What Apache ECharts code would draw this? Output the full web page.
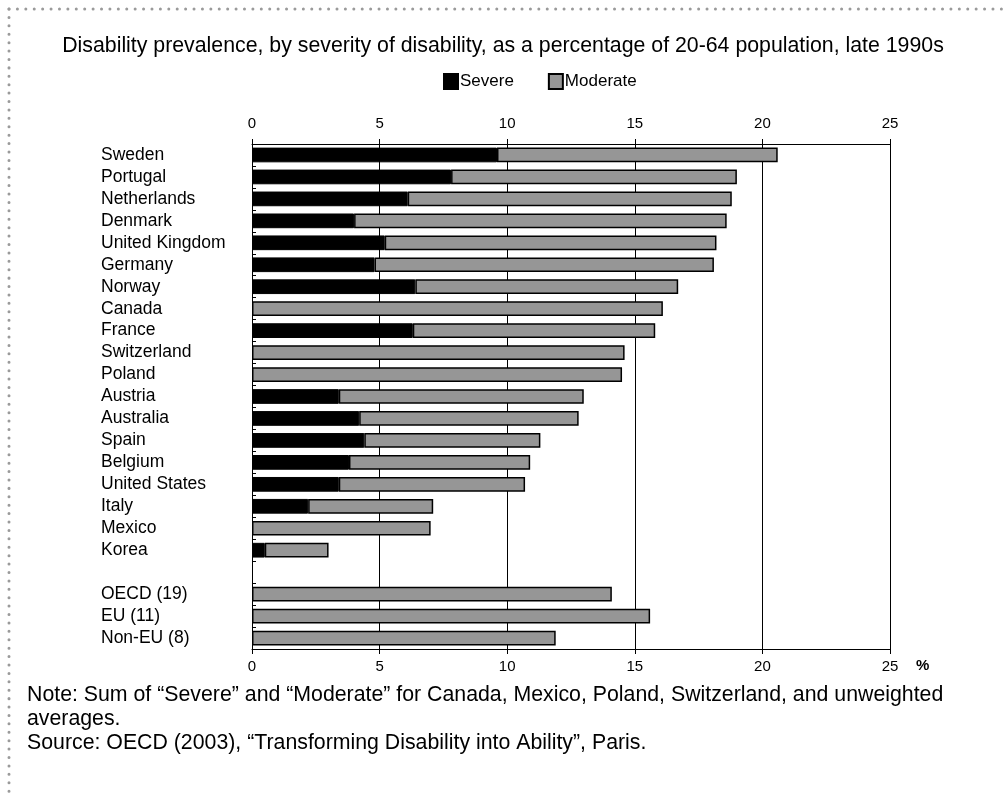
<!DOCTYPE html>
<html>
<head>
<meta charset="utf-8">
<script src="https://cdn.jsdelivr.net/npm/echarts@6/dist/echarts.min.js"></script>
<style>
  html, body { margin: 0; padding: 0; background: #fff; }
  #chart { width: 1006px; height: 793px; }
</style>
</head>
<body>
<div id="chart"></div>
<script>
// Countries, a spacer row, then the group averages
const categories = ['Sweden', 'Portugal', 'Netherlands', 'Denmark', 'United Kingdom', 'Germany',
  'Norway', 'Canada', 'France', 'Switzerland', 'Poland', 'Austria', 'Australia', 'Spain',
  'Belgium', 'United States', 'Italy', 'Mexico', 'Korea', '', 'OECD (19)', 'EU (11)', 'Non-EU (8)'];

// Severe share (%); '-' where only the combined figure exists
const severe = [9.6, 7.8, 6.1, 4.0, 5.2, 4.8, 6.4, '-', 6.3, '-', '-', 3.4, 4.2, 4.4, 3.8, 3.4,
  2.2, '-', 0.5, '-', '-', '-', '-'];

// Moderate share (%), stacked on top of severe
const moderate = [11.0, 11.2, 12.7, 14.6, 13.0, 13.3, 10.3, 16.1, 9.5, 14.6, 14.5, 9.6, 8.6, 6.9,
  7.1, 7.3, 4.9, 7.0, 2.5, '-', 14.1, 15.6, 11.9];

const titleText = 'Disability prevalence, by severity of disability, as a percentage of 20-64 population, late 1990s';
const noteLines = [
  'Note: Sum of \u201cSevere\u201d and \u201cModerate\u201d for Canada, Mexico, Poland, Switzerland, and unweighted',
  'averages.',
  'Source: OECD (2003), \u201cTransforming Disability into Ability\u201d, Paris.'
];

const FONT = '"Liberation Sans", Arial, Helvetica, sans-serif';

const valueAxis = (position, margin, withGrid) => ({
  type: 'value',
  position: position,
  min: 0,
  max: 25,
  interval: 5,
  axisLine: { show: true, lineStyle: { color: '#000', width: 1 } },
  axisTick: { show: true, length: 5, lineStyle: { color: '#000', width: 1 } },
  axisLabel: { fontFamily: FONT, fontSize: 15, color: '#000', margin: margin },
  splitLine: { show: withGrid, lineStyle: { color: '#000', width: 1 } }
});

const chart = echarts.init(document.getElementById('chart'), null, { renderer: 'canvas' });

chart.setOption({
  animation: false,
  backgroundColor: '#fff',
  title: {
    text: titleText,
    left: 'center',
    top: 36,
    padding: 0,
    textStyle: { fontFamily: FONT, fontSize: 21.3, fontWeight: 'normal', color: '#000' }
  },
  legend: {
    left: 443,
    top: 73,
    padding: 0,
    icon: 'rect',
    itemWidth: 14,
    itemHeight: 15,
    itemGap: 34,
    textStyle: { fontFamily: FONT, fontSize: 17, color: '#000', padding: [0, 0, 0, -3] },
    data: ['Severe', 'Moderate']
  },
  grid: { left: 252, top: 144, width: 638, height: 505 },
  xAxis: [valueAxis('top', 13, true), valueAxis('bottom', 10, false)],
  yAxis: {
    type: 'category',
    data: categories,
    inverse: true,
    axisLine: { show: true, lineStyle: { color: '#000', width: 1 } },
    axisTick: { show: true, inside: true, length: 4, lineStyle: { color: '#000' } },
    axisLabel: { interval: 0, align: 'left', margin: 151, fontFamily: FONT, fontSize: 17.5, color: '#000' },
    splitLine: { show: false }
  },
  series: [
    {
      name: 'Severe',
      type: 'bar',
      stack: 'total',
      xAxisIndex: 0,
      barWidth: '67%',
      data: severe,
      itemStyle: { color: '#000', borderColor: '#000', borderWidth: 1 }
    },
    {
      name: 'Moderate',
      type: 'bar',
      stack: 'total',
      xAxisIndex: 0,
      barWidth: '67%',
      data: moderate,
      itemStyle: { color: '#969696', borderColor: '#000', borderWidth: 1.5 }
    }
  ],
  graphic: [
    // dotted frame along the top and left edges
    {
      type: 'line',
      silent: true,
      shape: { x1: 9, y1: 9, x2: 1006, y2: 9 },
      style: { stroke: '#9a9a9a', lineWidth: 3, lineDash: [0.01, 8.4], lineCap: 'round' }
    },
    {
      type: 'line',
      silent: true,
      shape: { x1: 9, y1: 9, x2: 9, y2: 793 },
      style: { stroke: '#9a9a9a', lineWidth: 3, lineDash: [0.01, 8.4], lineCap: 'round' }
    },
    // unit marker next to the bottom axis
    {
      type: 'text',
      left: 916,
      top: 658,
      style: { text: '%', fontFamily: FONT, fontSize: 15, fontWeight: 'bold', fill: '#000' }
    },
    {
      type: 'text',
      left: 27,
      top: 683,
      style: {
        text: noteLines.join('\n'),
        fontFamily: FONT,
        fontSize: 21.3,
        lineHeight: 24,
        fill: '#000'
      }
    }
  ]
});
</script>
</body>
</html>
